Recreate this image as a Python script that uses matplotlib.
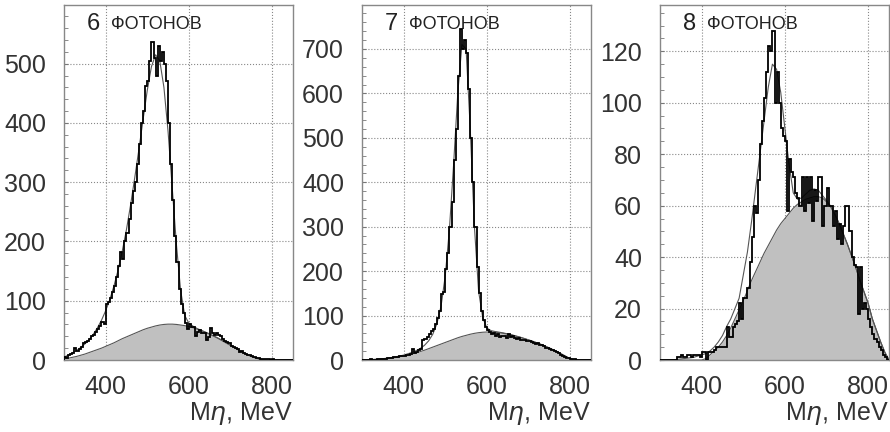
import numpy as np
import matplotlib as mpl
mpl.use('Agg')
import matplotlib.pyplot as plt
from matplotlib.ticker import MultipleLocator

plt.rcParams['font.family'] = ['Liberation Sans', 'DejaVu Sans']
plt.rcParams['mathtext.fontset'] = 'dejavusans'

# histogram bins: 5 MeV from 300 to 850
edges = np.arange(300, 855, 5)
# fit curves sampled every 10 MeV
fit_x = np.arange(300, 851, 10)

titles = ['6', '7', '8']
word = 'ФОТОНОВ'

h6 = [5, 4, 8, 10, 12, 20, 16, 18, 22, 28,
      30, 32, 35, 40, 43, 48, 52, 58, 64, 60,
      95, 98, 105, 115, 125, 140, 158, 182, 170, 200,
      215, 238, 265, 285, 300, 330, 365, 400, 420, 462,
      470, 505, 537, 510, 480, 530, 505, 520, 500, 470,
      400, 330, 270, 210, 165, 120, 95, 80, 62, 52,
      60, 56, 56, 40, 48, 50, 45, 46, 34, 38,
      54, 45, 43, 45, 42, 40, 36, 32, 30, 28,
      24, 22, 20, 18, 14, 16, 12, 10, 9, 8,
      6, 5, 4, 3, 2, 2, 1, 1, 1, 0,
      2, 0, 0, 0, 0, 0, 0, 0, 0, 0]
h7 = [1, 1, 0, 1, 2, 1, 1, 2, 2, 3,
      3, 3, 4, 5, 5, 6, 6, 7, 8, 9,
      10, 12, 12, 14, 25, 16, 18, 22, 24, 45,
      48, 52, 58, 65, 70, 80, 95, 110, 148, 152,
      205, 240, 300, 355, 450, 520, 640, 745, 700, 720,
      690, 610, 500, 400, 300, 210, 150, 110, 90, 75,
      68, 62, 58, 60, 55, 58, 52, 55, 54, 50,
      58, 52, 55, 50, 48, 50, 45, 44, 46, 42,
      42, 40, 38, 36, 38, 34, 33, 32, 28, 27,
      25, 22, 20, 18, 15, 12, 10, 7, 5, 4,
      2, 2, 3, 1, 1, 0, 0, 0, 0, 0]
h8 = [0, 0, 0, 0, 0, 0, 0, 0, 1, 1,
      2, 1, 1, 2, 2, 1, 2, 2, 2, 1,
      3, 3, 0, 3, 3, 3, 4, 5, 5, 5,
      5, 5, 13, 9, 9, 13, 14, 15, 22, 16,
      24, 24, 28, 38, 48, 60, 57, 70, 84, 93,
      102, 112, 122, 120, 128, 100, 112, 100, 90, 87,
      85, 58, 78, 73, 71, 65, 63, 60, 71, 58,
      71, 61, 71, 54, 66, 62, 71, 71, 52, 60,
      67, 60, 60, 52, 58, 47, 53, 45, 52, 60,
      60, 50, 40, 37, 36, 18, 36, 20, 22, 20,
      16, 13, 10, 8, 7, 5, 4, 2, 1, 0]

fit6 = [5, 8, 12, 16, 21, 27, 34, 43, 54, 67,
        83, 102, 125, 152, 184, 220, 262, 308, 356, 406,
        455, 495, 515, 505, 460, 385, 290, 195, 118, 75,
        62, 57, 53, 50, 47, 44, 40.5, 37, 33, 29,
        25, 21, 17, 13, 9, 6, 3.5, 1.5, 0.5, 0,
        0, 0, 0, 0, 0, 0]
bg6 = [2, 3, 4.5, 6, 8, 10, 12.5, 15, 17.5, 20,
       23, 26, 29, 32.5, 36, 39, 42, 45, 48, 51,
       53.5, 55.5, 57.5, 59, 60, 60.5, 60.5, 60, 59, 58,
       56.5, 54.5, 52, 49.5, 46.5, 43.5, 40, 36.5, 32.5, 28.5,
       24.5, 20.5, 16.5, 12.5, 9, 6, 3.5, 1.5, 0.5, 0,
       0, 0, 0, 0, 0, 0]
fit7 = [0.5, 0.8, 1, 1.5, 2, 3, 4, 5.5, 7, 9,
        11, 14, 17, 21, 26, 33, 43, 58, 82, 122,
        190, 295, 440, 600, 710, 700, 520, 300, 155, 95,
        72, 66, 64, 62.5, 60.8, 58.7, 56.6, 54, 51.4, 48.4,
        45.3, 42.2, 38.7, 35.2, 31.2, 27.1, 22.6, 18, 13, 8,
        3, 0.5, 0, 0, 0, 0]
bg7 = [0, 0.3, 0.6, 1, 1.5, 2, 3, 4, 5.5, 7,
       9, 11, 13.5, 16, 19, 22, 25.5, 29, 32.5, 36,
       39.5, 43, 46.5, 50, 53, 55.5, 58, 60, 61.5, 62.5,
       63, 63, 62.5, 61.5, 60, 58, 56, 53.5, 51, 48,
       45, 42, 38.5, 35, 31, 27, 22.5, 18, 13, 8,
       3, 0.5, 0, 0, 0, 0]
fit8 = [0, 0, 0, 0, 0.2, 0.4, 0.6, 0.8, 1, 1.5,
        2, 2.5, 3.5, 5, 7, 9.5, 13, 16, 20, 24,
        33, 42, 54, 67, 80, 93, 106, 115, 113, 104,
        90, 76, 65, 62.5, 63, 64.5, 66, 66.5, 66, 64,
        62, 59.8, 56.7, 53.2, 49.2, 45.1, 40.6, 36, 31, 26.5,
        22, 16, 11.5, 7, 3, 0]
bg8 = [0, 0, 0, 0, 0, 0, 0, 0, 0, 0,
       0, 0.5, 2, 3.5, 5, 7, 9.5, 12.5, 16, 19.5,
       23, 27, 31, 34.5, 38, 41.5, 44.5, 47.5, 50.5, 53,
       55, 57, 59, 60.5, 61.5, 62.5, 63, 63.5, 63.5, 63,
       61.5, 59.5, 56.5, 53, 49, 45, 40.5, 36, 31, 26.5,
       22, 16, 11.5, 7, 3, 0]

hists = [h6, h7, h8]
fits = [fit6, fit7, fit8]
bgs = [bg6, bg7, bg8]
ymax = [599, 799, 138]
ymajor = [100, 100, 20]
yminor = [20, 20, 5]

fig = plt.figure(figsize=(8.9, 4.32), dpi=100)
lefts = [64, 362, 660]

for i in range(3):
    ax = fig.add_axes([lefts[i] / 890, 1 - 360 / 432, 229 / 890, 355 / 432])
    ax.fill_between(fit_x, bgs[i], color='#c0c0c0', lw=0, zorder=1)
    ax.plot(fit_x, bgs[i], color='#555555', lw=0.8, zorder=2)
    ax.plot(fit_x, fits[i], color='#555555', lw=0.8, zorder=3)
    ax.stairs(hists[i], edges, color='black', lw=1.3, zorder=4)

    ax.set_xlim(300, 850)
    ax.set_ylim(0, ymax[i])
    ax.xaxis.set_major_locator(MultipleLocator(200))
    ax.yaxis.set_major_locator(MultipleLocator(ymajor[i]))
    ax.yaxis.set_minor_locator(MultipleLocator(yminor[i]))
    ax.grid(True, which='major', ls=':', color='#888888', lw=0.8)
    ax.set_axisbelow(True)
    ax.tick_params(axis='y', which='both', direction='in', length=3,
                   color='#777777', labelsize=18, labelcolor='#333333', pad=13)
    ax.tick_params(axis='x', which='both', length=0, labelsize=18,
                   labelcolor='#333333', pad=11)
    for sp in ax.spines.values():
        sp.set_color('#888888')
        sp.set_linewidth(1.0)

    ax.annotate(titles[i], xy=(0, 1), xycoords='axes fraction',
                xytext=(23 * 0.72, -25 * 0.72), textcoords='offset points',
                fontsize=17, color='#222222', va='baseline', ha='left')
    ax.annotate(word, xy=(0, 1), xycoords='axes fraction',
                xytext=(47 * 0.72, -24 * 0.72), textcoords='offset points',
                fontsize=13, color='#222222', va='baseline', ha='left')
    ax.annotate(r'M$\eta$, MeV', xy=(1, 0), xycoords='axes fraction',
                xytext=(0, -60 * 0.72), textcoords='offset points',
                fontsize=18, color='#333333', va='baseline', ha='right')

fig.savefig('out.png', dpi=100)
